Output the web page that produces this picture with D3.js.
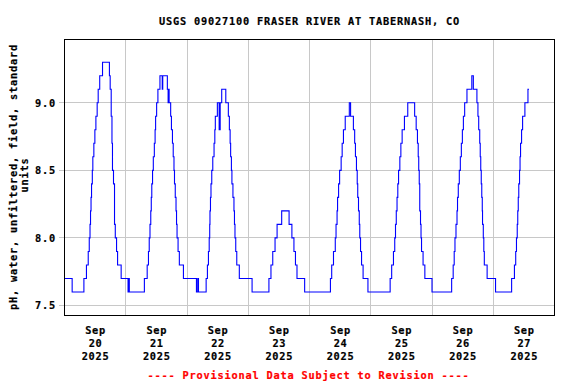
<!DOCTYPE html>
<html lang="en">
<head>
    <meta charset="UTF-8">
    <title>USGS 09027100 FRASER RIVER AT TABERNASH, CO</title>
    <style>
        body, html {
            margin: 0;
            padding: 0;
            background: #fff;
        }
        svg text {
            font-family: "DejaVu Sans Mono", monospace;
            font-weight: bold;
            font-size: 10.3px;
            letter-spacing: 0.8px;
            stroke: currentColor;
            stroke-width: 0.2px;
        }
    </style>
    <script src="https://d3js.org/d3.v7.min.js"></script>
</head>
<body>
    <div id="chart"></div>
    <script>
        const title = "USGS 09027100 FRASER RIVER AT TABERNASH, CO";
        const yLabel = ["pH, water, unfiltered, field, standard", "units"];
        const footnote = "---- Provisional Data Subject to Revision ----";

        const startDate = new Date(2025, 8, 20);   // Sep 20 2025 00:00
        const endDate = new Date(2025, 8, 28);     // Sep 28 2025 00:00
        const yTicks = [7.5, 8.0, 8.5, 9.0];

        // [hours since Sep 20 00:00, pH] -- the reading changes to this value at that hour
        const phSteps = [
            [0, 7.7], [3.0, 7.6], [7.6, 7.7], [8.6, 7.8], [9.3, 7.9], [9.7, 8.0], [10.0, 8.1],
            [10.2, 8.2], [10.4, 8.3], [10.6, 8.4], [10.9, 8.5], [11.1, 8.6], [11.5, 8.7],
            [11.9, 8.8], [12.3, 8.9], [12.8, 9.0], [13.2, 9.1], [13.8, 9.2], [14.9, 9.3],
            [17.6, 9.2], [17.9, 9.1], [18.3, 8.9], [18.6, 8.7], [18.8, 8.5], [19.2, 8.4],
            [19.6, 8.1], [19.9, 8.0], [20.4, 7.9], [20.8, 7.8], [22.2, 7.7], [24.9, 7.6],
            [25.1, 7.7], [25.4, 7.6],
            // Sep 21
            [31.3, 7.7], [32.4, 7.8], [32.9, 7.9], [33.2, 8.0], [33.5, 8.1], [33.8, 8.2],
            [34.0, 8.3], [34.2, 8.4], [34.5, 8.5], [34.8, 8.6], [35.2, 8.7], [35.5, 8.8],
            [35.7, 8.9], [36.1, 9.0], [36.6, 9.1], [37.4, 9.2], [38.3, 9.1], [38.5, 9.2],
            [40.3, 9.1], [40.6, 9.0], [40.8, 9.1], [41.0, 9.0], [41.6, 8.9], [41.9, 8.8],
            [42.3, 8.7], [42.6, 8.6], [42.9, 8.5], [43.1, 8.4], [43.4, 8.3], [43.7, 8.2],
            [43.9, 8.1], [44.1, 8.0], [44.5, 7.9], [45.0, 7.8], [46.6, 7.7], [51.7, 7.6],
            [52.2, 7.7], [52.5, 7.6],
            // Sep 22
            [55.5, 7.7], [56.0, 7.8], [56.4, 7.9], [56.7, 8.0], [56.9, 8.1], [57.0, 8.2],
            [57.2, 8.3], [57.4, 8.4], [57.7, 8.5], [58.1, 8.6], [58.6, 8.7], [58.9, 8.8],
            [59.1, 8.9], [59.9, 9.0], [60.6, 8.8], [61.0, 9.0], [61.6, 9.1], [63.2, 9.0],
            [64.2, 8.9], [64.6, 8.8], [64.9, 8.7], [65.1, 8.6], [65.4, 8.5], [65.6, 8.4],
            [66.0, 8.3], [66.4, 8.2], [66.6, 8.1], [66.8, 8.0], [67.1, 7.9], [67.5, 7.8],
            [68.5, 7.7], [73.5, 7.6],
            // Sep 23
            [80.1, 7.7], [80.9, 7.8], [81.6, 7.9], [82.5, 8.0], [83.3, 8.1], [85.1, 8.2],
            [88.0, 8.1], [89.1, 8.0], [89.9, 7.9], [90.5, 7.8], [91.1, 7.7], [94.1, 7.6],
            // Sep 24
            [104.2, 7.7], [104.7, 7.8], [105.4, 7.9], [106.1, 8.0], [106.4, 8.1], [106.8, 8.2],
            [107.0, 8.3], [107.4, 8.4], [107.8, 8.5], [108.4, 8.6], [108.8, 8.7], [109.3, 8.8],
            [110.0, 8.9], [111.6, 9.0], [112.1, 8.9], [113.2, 8.8], [113.7, 8.7], [114.0, 8.6],
            [114.4, 8.5], [114.7, 8.4], [114.9, 8.3], [115.2, 8.2], [115.5, 8.1], [115.7, 8.0],
            [116.0, 7.9], [116.4, 7.8], [117.0, 7.7], [118.9, 7.6],
            // Sep 25
            [127.6, 7.7], [128.2, 7.8], [128.9, 7.9], [129.4, 8.0], [129.7, 8.1], [130.0, 8.2],
            [130.3, 8.3], [130.6, 8.4], [130.9, 8.5], [131.4, 8.6], [131.8, 8.7], [132.3, 8.8],
            [133.2, 8.9], [134.5, 9.0], [137.2, 8.9], [137.8, 8.8], [138.3, 8.7], [138.6, 8.6],
            [138.8, 8.5], [139.0, 8.4], [139.2, 8.2], [139.5, 8.1], [139.7, 8.0], [139.9, 7.9],
            [140.5, 7.8], [141.2, 7.7], [144.0, 7.6],
            // Sep 26
            [151.7, 7.7], [152.3, 7.8], [152.7, 7.9], [153.0, 8.0], [153.4, 8.1], [153.8, 8.2],
            [154.0, 8.3], [154.3, 8.4], [154.7, 8.5], [155.1, 8.6], [155.5, 8.7], [155.9, 8.8],
            [156.3, 8.9], [156.8, 9.0], [157.7, 9.1], [159.6, 9.2], [160.2, 9.1], [161.6, 9.0],
            [162.0, 8.9], [162.3, 8.8], [162.7, 8.7], [162.9, 8.6], [163.1, 8.5], [163.3, 8.4],
            [163.5, 8.3], [163.7, 8.2], [163.8, 8.1], [164.1, 8.0], [164.3, 7.9], [164.5, 7.8],
            [165.6, 7.7], [168.9, 7.6],
            // Sep 27
            [175.2, 7.7], [176.3, 7.8], [176.8, 7.9], [177.1, 8.0], [177.4, 8.1], [177.6, 8.2],
            [177.8, 8.3], [178.0, 8.4], [178.3, 8.5], [178.5, 8.6], [178.7, 8.7], [179.1, 8.8],
            [179.5, 8.9], [180.4, 9.0], [181.6, 9.1], [182.0, 9.1]
        ];

        const width = 576, height = 384;
        const plot = { left: 64.5, right: 554.5, top: 39.5, bottom: 315.5 };

        const svg = d3.select("#chart").append("svg")
            .attr("width", width)
            .attr("height", height)
            .style("display", "block");

        const x = d3.scaleTime()
            .domain([startDate, endDate])
            .range([plot.left, plot.right]);

        const y = d3.scaleLinear()
            .domain([7.426, 9.468])
            .range([plot.bottom, plot.top]);

        const snap = v => Math.round(v - 0.5) + 0.5;

        // grid
        const days = d3.timeDay.range(d3.timeDay.offset(startDate, 1), endDate);
        svg.append("g")
            .selectAll("line")
            .data(days)
            .join("line")
            .attr("x1", d => snap(x(d)))
            .attr("x2", d => snap(x(d)))
            .attr("y1", plot.top)
            .attr("y2", plot.bottom)
            .attr("stroke", "#c8c8c8")
            .attr("shape-rendering", "crispEdges");

        svg.append("g")
            .selectAll("line")
            .data(yTicks)
            .join("line")
            .attr("x1", plot.left - 6)
            .attr("x2", plot.right)
            .attr("y1", d => snap(y(d)))
            .attr("y2", d => snap(y(d)))
            .attr("stroke", "#c8c8c8")
            .attr("shape-rendering", "crispEdges");

        // y tick labels
        svg.append("g")
            .selectAll("text")
            .data(yTicks)
            .join("text")
            .attr("x", 56)
            .attr("y", d => y(d))
            .attr("dy", "0.38em")
            .attr("text-anchor", "end")
            .text(d => d3.format(".1f")(d));

        // x labels at noon of each day
        const labelDays = d3.timeDay.range(startDate, endDate);
        const fmtParts = [d3.timeFormat("%b"), d3.timeFormat("%d"), d3.timeFormat("%Y")];
        const xl = svg.append("g")
            .selectAll("text")
            .data(labelDays)
            .join("text")
            .attr("text-anchor", "middle")
            .attr("transform", d => `translate(${x(d3.timeHour.offset(d, 12)) + 0.5},333.5)`);
        fmtParts.forEach((f, i) => {
            xl.append("tspan")
                .attr("x", 0)
                .attr("y", i * 13)
                .text(d => f(d));
        });

        // data line
        const line = d3.line()
            .x(d => x(d3.timeMinute.offset(startDate, Math.round(d[0] * 60))))
            .y(d => y(d[1]))
            .curve(d3.curveStepAfter);

        svg.append("path")
            .datum(phSteps)
            .attr("d", line)
            .attr("fill", "none")
            .attr("stroke", "#0000ff")
            .attr("stroke-width", 1.1);

        // frame
        svg.append("rect")
            .attr("x", plot.left)
            .attr("y", plot.top)
            .attr("width", plot.right - plot.left)
            .attr("height", plot.bottom - plot.top)
            .attr("fill", "none")
            .attr("stroke", "#000")
            .attr("shape-rendering", "crispEdges");

        const cx = (plot.left + plot.right) / 2;

        svg.append("text")
            .attr("x", cx)
            .attr("y", 24.5)
            .attr("text-anchor", "middle")
            .text(title);

        // y axis title, two lines
        svg.append("text")
            .attr("transform", "translate(16.5,177) rotate(-90)")
            .attr("text-anchor", "middle")
            .text(yLabel[0]);
        svg.append("text")
            .attr("transform", "translate(28,175) rotate(-90)")
            .attr("text-anchor", "middle")
            .text(yLabel[1]);

        svg.append("text")
            .attr("x", cx - 1)
            .attr("y", 378.5)
            .attr("text-anchor", "middle")
            .style("color", "#ff0000")
            .attr("fill", "#ff0000")
            .text(footnote);
    </script>
</body>
</html>
